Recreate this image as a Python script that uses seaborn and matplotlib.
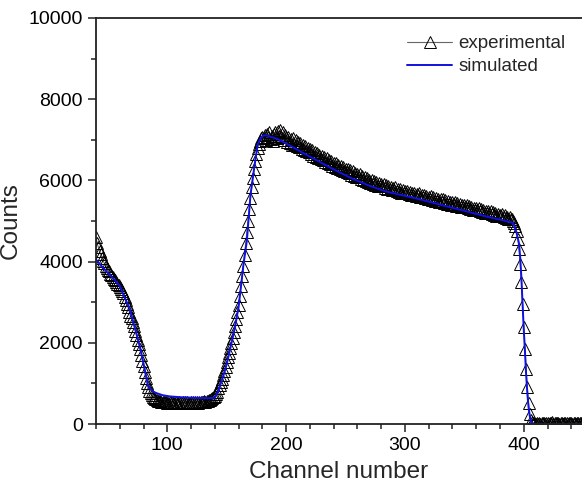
import numpy as np
import pandas as pd
import matplotlib
matplotlib.use("Agg")
import matplotlib.pyplot as plt
import seaborn as sns
from matplotlib.ticker import MultipleLocator

# ---------------- data ----------------
exp_start_channel = 40
exp_counts = (
    [4600, 4450, 4350, 4250, 4180, 4100, 4020, 3960, 3900, 3850,
     3800, 3760, 3700, 3660, 3620, 3580, 3540, 3500, 3460, 3420] +          # 40-59
    [3380, 3330, 3280, 3220, 3140, 3050, 2960, 2870, 2770, 2660] +          # 60-69
    [2620, 2520, 2410, 2300, 2190, 2080, 1960, 1840, 1700, 1560] +          # 70-79
    [1420, 1280, 1140, 1010, 900, 820, 760, 710, 670, 640] +                # 80-89
    [610, 590, 575, 565, 555, 550, 545, 540, 535, 530] +                    # 90-99
    [525, 520, 540, 515, 530, 510, 525, 535, 515, 520] +                    # 100-109
    [540, 510, 525, 535, 515, 530, 520, 540, 525, 510] +                    # 110-119
    [535, 520, 530, 545, 520, 535, 525, 540, 550, 530] +                    # 120-129
    [545, 560, 550, 570, 565, 580, 590, 605, 630, 660] +                    # 130-139
    [680, 730, 800, 880, 960, 1040, 1120, 1200, 1300, 1410] +               # 140-149
    [1520, 1640, 1760, 1880, 2000, 2130, 2270, 2420, 2580, 2750] +          # 150-159
    [2930, 3150, 3390, 3640, 3900, 4170, 4450, 4730, 5010, 5290] +          # 160-169
    [5570, 5830, 6070, 6290, 6480, 6650, 6790, 6900, 6980, 7040] +          # 170-179
    [7080, 7050, 7120, 7000, 7150, 7060, 7180, 7020, 7100, 6980] +          # 180-189
    [7150, 7200, 7050, 7220, 7100, 7250, 7080, 7180, 7000, 7120] +          # 190-199
    [7060, 6950, 7080, 6920, 7010, 6880, 7050, 6900, 6990, 6850] +          # 200-209
    [6940, 6830, 6920, 6780, 6880, 6740, 6850, 6720, 6800, 6690] +          # 210-219
    [6780, 6660, 6740, 6600, 6700, 6570, 6680, 6540, 6620, 6520] +          # 220-229
    [6600, 6500, 6580, 6450, 6550, 6420, 6510, 6400, 6480, 6360] +          # 230-239
    [6440, 6340, 6420, 6300, 6380, 6270, 6360, 6250, 6330, 6220] +          # 240-249
    [6290, 6200, 6280, 6170, 6250, 6140, 6220, 6110, 6180, 6090] +          # 250-259
    [6160, 6080, 6150, 6040, 6110, 6000, 6080, 5980, 6050, 5950] +          # 260-269
    [6020, 5940, 6010, 5910, 5980, 5880, 5950, 5860, 5930, 5850] +          # 270-279
    [5910, 5850, 5920, 5820, 5890, 5800, 5860, 5780, 5840, 5760] +          # 280-289
    [5820, 5770, 5830, 5740, 5800, 5720, 5790, 5700, 5760, 5690] +          # 290-299
    [5750, 5690, 5740, 5660, 5720, 5640, 5700, 5630, 5680, 5610] +          # 300-309
    [5670, 5630, 5680, 5600, 5650, 5580, 5640, 5560, 5620, 5550] +          # 310-319
    [5600, 5550, 5610, 5520, 5580, 5500, 5560, 5490, 5540, 5470] +          # 320-329
    [5530, 5480, 5530, 5450, 5510, 5430, 5490, 5420, 5470, 5400] +          # 330-339
    [5460, 5410, 5460, 5380, 5440, 5370, 5420, 5350, 5400, 5340] +          # 340-349
    [5390, 5340, 5390, 5310, 5370, 5300, 5350, 5280, 5330, 5270] +          # 350-359
    [5320, 5260, 5310, 5240, 5290, 5220, 5270, 5200, 5250, 5190] +          # 360-369
    [5240, 5200, 5240, 5170, 5220, 5150, 5200, 5130, 5180, 5120] +          # 370-379
    [5160, 5130, 5170, 5100, 5140, 5080, 5110, 5060, 5090, 5040] +          # 380-389
    [5050, 5000, 4960, 4880, 4750, 4560, 4300, 3950, 3500, 2950] +          # 390-399
    [2400, 1850, 1350, 900, 520, 250, 100, 40, 20, 15] +                    # 400-409
    [10, 20, 10, 30, 5, 25, 15, 35, 10, 20,
     30, 5, 25, 15, 40, 10, 20, 30, 15, 25,
     5, 35, 20, 10, 30, 15, 25, 10, 20, 35,
     15, 5, 25, 30, 10, 20, 15, 35, 25, 10, 20]                              # 410-450
)
exp_channels = list(range(exp_start_channel, exp_start_channel + len(exp_counts)))

sim_channels = [40, 45, 50, 55, 60, 64, 68, 72, 77, 81, 84, 88, 91, 96, 102, 111,
                120, 130, 137, 140, 143, 147, 150, 154, 157, 160, 164, 167, 170,
                173, 176, 179, 181, 183, 186, 192, 200, 214, 228, 242, 256, 270,
                285, 300, 313, 330, 350, 370, 385, 391, 394, 396, 397, 398, 399,
                400, 401, 402, 403, 404, 405, 406, 407, 410, 450]
sim_counts = [4050, 3880, 3720, 3570, 3400, 3120, 2870, 2450, 1910, 1350, 920, 800,
              760, 710, 680, 660, 650, 640, 635, 650, 820, 1170, 1470, 1990, 2390,
              2880, 3900, 4520, 5640, 6280, 6880, 7060, 7110, 7110, 7080, 7030,
              6910, 6680, 6460, 6240, 6040, 5870, 5720, 5620, 5530, 5400, 5250,
              5100, 5000, 4950, 4700, 4450, 4100, 3600, 2950, 2320, 1780, 1200,
              750, 420, 200, 60, 20, 0, 0]

x_label = "Channel number"
y_label = "Counts"
legend_labels = ["experimental", "simulated"]

# ---------------- plot ----------------
sns.set_style("ticks")
plt.rcParams["font.family"] = ["Liberation Sans", "DejaVu Sans"]

fig = plt.figure(figsize=(5.82, 4.90), dpi=100)
ax = fig.add_axes([96 / 582, 1 - 424 / 490, 1 - 96 / 582, (424 - 18) / 490])

df_exp = pd.DataFrame({"ch": exp_channels, "cnt": exp_counts})
df_sim = pd.DataFrame({"ch": sim_channels, "cnt": sim_counts})

sns.lineplot(data=df_exp, x="ch", y="cnt", ax=ax, color="#666666", lw=0.8,
             marker="^", markersize=9, markerfacecolor="none",
             markeredgecolor="black", markeredgewidth=0.7,
             label=legend_labels[0], estimator=None, sort=False)
sns.lineplot(data=df_sim, x="ch", y="cnt", ax=ax, color="#1010e0", lw=1.4,
             label=legend_labels[1], estimator=None, sort=False)

ax.set_xlim(40, 449)
ax.set_ylim(0, 10000)
ax.xaxis.set_major_locator(MultipleLocator(100))
ax.xaxis.set_minor_locator(MultipleLocator(20))
ax.yaxis.set_major_locator(MultipleLocator(2000))
ax.yaxis.set_minor_locator(MultipleLocator(1000))
ax.tick_params(which="major", direction="out", length=5.5, width=1.1,
               labelsize=14, colors="#222222", labelcolor="black", pad=4)
ax.tick_params(which="minor", direction="out", length=3.5, width=1.1,
               colors="#222222")
ax.tick_params(axis="both", which="both", top=False, right=False)

for side in ["left", "bottom", "top"]:
    ax.spines[side].set_linewidth(1.3)
    ax.spines[side].set_color("#222222")
ax.spines["right"].set_visible(False)

ax.set_xlabel(x_label, fontsize=17.5, labelpad=5)
ax.set_ylabel(y_label, fontsize=17.5, labelpad=5)

leg = ax.legend(loc="upper left", bbox_to_anchor=(407 / 582, 1 - 35 / 490),
                bbox_transform=fig.transFigure, frameon=False, fontsize=13.5,
                handlelength=2.4, handletextpad=0.35, labelspacing=0.33,
                borderpad=0, borderaxespad=0, numpoints=1)

fig.savefig("out.png", dpi=100)
